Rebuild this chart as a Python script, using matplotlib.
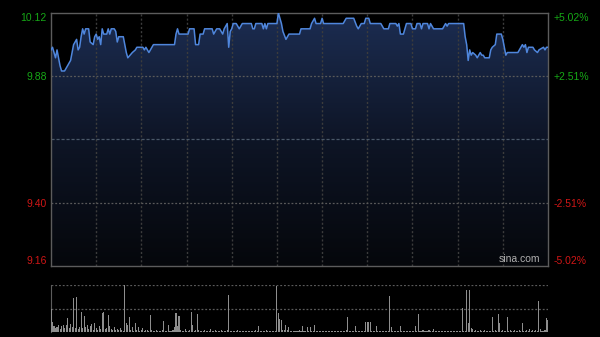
import numpy as np
import matplotlib
matplotlib.use('Agg')
import matplotlib.pyplot as plt
from matplotlib.colors import LinearSegmentedColormap

# ---- data ----
minutes = [0, 1, 3, 4, 6, 7, 9, 10, 12, 13, 15, 17, 18, 19, 20, 21, 22, 23, 25, 26,
           28, 29, 30, 31, 32, 33, 34, 35, 37, 38, 39, 40, 42, 43, 44, 45, 48, 49, 50, 51,
           54, 56, 57, 61, 62, 63, 64, 65, 67, 68, 82, 83, 84, 85, 91, 92, 95, 96, 98, 99,
           101, 102, 107, 108, 110, 112, 114, 115, 117, 118, 119, 120, 121, 123, 125, 127, 133, 134, 135, 136,
           140, 141, 142, 143, 144, 150, 151, 152, 153, 154, 156, 158, 165, 166, 172, 173, 175, 176, 179, 180,
           181, 194, 196, 201, 203, 204, 206, 208, 209, 211, 212, 219, 221, 224, 225, 229, 230, 231, 232, 234,
           236, 239, 240, 242, 243, 245, 246, 247, 250, 251, 252, 254, 260, 262, 263, 264, 274, 275, 276, 277,
           278, 279, 280, 282, 283, 284, 285, 286, 287, 288, 291, 292, 293, 295, 296, 299, 300, 301, 302, 303,
           310, 311, 313, 314, 315, 316, 317, 320, 321, 323, 324, 327, 328, 329, 330]
prices = [9.98, 9.99, 9.95, 9.98, 9.92, 9.90, 9.90, 9.91, 9.93, 9.94, 10.00, 10.02, 9.98, 9.99, 10.03, 10.06, 10.04, 10.06, 10.06, 10.01,
          10.00, 10.03, 10.04, 10.02, 10.03, 10.00, 10.06, 10.04, 10.04, 10.06, 10.04, 10.06, 10.06, 10.05, 10.01, 10.03, 10.03, 10.00, 9.97, 9.95,
          9.97, 9.98, 9.99, 9.99, 9.98, 9.99, 9.98, 9.97, 9.99, 10.00, 10.00, 10.04, 10.06, 10.04, 10.04, 10.06, 10.06, 10.00, 10.00, 10.04,
          10.04, 10.06, 10.06, 10.04, 10.06, 10.06, 10.04, 10.06, 10.08, 9.99, 10.05, 10.06, 10.08, 10.08, 10.06, 10.08, 10.08, 10.06, 10.06, 10.08,
          10.08, 10.06, 10.08, 10.06, 10.08, 10.08, 10.12, 10.10, 10.08, 10.05, 10.02, 10.04, 10.04, 10.06, 10.06, 10.08, 10.10, 10.08, 10.08, 10.10,
          10.08, 10.08, 10.10, 10.10, 10.07, 10.06, 10.08, 10.08, 10.10, 10.10, 10.08, 10.08, 10.06, 10.06, 10.08, 10.08, 10.07, 10.08, 10.04, 10.04,
          10.08, 10.08, 10.06, 10.06, 10.08, 10.08, 10.06, 10.08, 10.08, 10.06, 10.08, 10.06, 10.06, 10.08, 10.07, 10.08, 10.08, 10.03, 10.00, 9.94,
          9.98, 9.96, 9.97, 9.96, 9.95, 9.96, 9.97, 9.96, 9.96, 9.95, 9.95, 9.98, 9.99, 10.00, 10.04, 10.04, 10.02, 9.99, 9.96, 9.97,
          9.97, 9.98, 10.00, 9.99, 10.00, 9.97, 9.99, 9.99, 9.98, 9.97, 9.98, 9.99, 9.98, 9.99, 9.99]

volumes = [50, 22, 12, 8, 10, 15, 6, 12, 14, 8,
           15, 30, 8, 18, 10, 72, 8, 74, 6, 10,
           42, 8, 35, 10, 15, 6, 13, 16, 5, 20,
           8, 5, 12, 6, 40, 42, 6, 8, 37, 12,
           6, 4, 10, 5, 6, 4, 8, 5, 3, 100,
           20, 15, 32, 4, 10, 3, 20, 4, 10, 3,
           4, 8, 3, 5, 4, 3, 36, 4, 3, 2,
           5, 3, 2, 3, 4, 24, 3, 2, 15, 3,
           3, 4, 10, 40, 12, 35, 4, 3, 2, 6,
           3, 2, 4, 42, 14, 3, 4, 38, 5, 3,
           2, 3, 5, 2, 3, 2, 6, 3, 2, 4,
           2, 3, 2, 5, 3, 2, 3, 4, 79, 3,
           2, 3, 2, 2, 4, 2, 3, 2, 2, 3,
           2, 3, 2, 2, 3, 2, 4, 2, 12, 3,
           2, 3, 2, 4, 2, 3, 2, 2, 3, 2,
           97, 40, 27, 25, 5, 4, 15, 4, 10, 3,
           2, 3, 2, 3, 2, 4, 3, 12, 2, 3,
           10, 3, 10, 2, 3, 14, 3, 2, 2, 3,
           2, 3, 2, 3, 2, 3, 2, 2, 3, 2,
           2, 3, 2, 2, 3, 2, 4, 31, 2, 3,
           2, 3, 12, 2, 3, 2, 3, 2, 2, 22,
           22, 22, 22, 3, 2, 2, 12, 2, 3, 2,
           2, 3, 2, 2, 3, 77, 10, 3, 2, 3,
           2, 3, 12, 3, 2, 3, 3, 2, 3, 2,
           3, 2, 13, 2, 38, 3, 2, 5, 3, 2,
           3, 5, 2, 2, 6, 2, 3, 2, 2, 3,
           2, 2, 3, 2, 2, 3, 2, 2, 3, 2,
           3, 2, 3, 52, 3, 2, 90, 20, 89, 8,
           6, 3, 4, 2, 3, 5, 3, 2, 4, 3,
           3, 2, 3, 31, 3, 4, 2, 38, 20, 3,
           5, 3, 2, 31, 3, 4, 2, 3, 5, 3,
           3, 4, 3, 20, 3, 2, 4, 3, 6, 3,
           4, 3, 5, 2, 66, 6, 3, 2, 4, 30,
           25]

prev_close = 9.64
y_ticks = [10.12, 9.88, 9.40, 9.16]
y_labels = ['10.12', '9.88', '9.40', '9.16']
pct_labels = ['+5.02%', '+2.51%', '-2.51%', '-5.02%']
grid_prices = [9.88, 9.40]
vgrid_minutes = [30, 60, 90, 120, 150, 180, 210, 240, 270, 300]

# ---- figure ----
W, H = 600, 337
fig = plt.figure(figsize=(W / 100, H / 100), dpi=100, facecolor='black')
FONT = 'Liberation Sans'
GREEN = '#16a816'
RED = '#d01616'

ax = fig.add_axes([51 / W, 1 - 266 / H, 497 / W, 253 / H], facecolor='black')
ymin, ymax = 9.16, 10.12
xmax = 330
ax.set_xlim(0, xmax)
ax.set_ylim(ymin, ymax)

# gradient fill under the price line
cmap = LinearSegmentedColormap.from_list('g', ['#05070b', '#0e1526', '#1c2d52'])
grad = np.linspace(0, 1, 256).reshape(-1, 1)
im = ax.imshow(grad, extent=[0, xmax, ymin, ymax], origin='lower', aspect='auto',
               cmap=cmap, zorder=1, interpolation='bilinear')
poly = ax.fill_between(minutes, prices, ymin, facecolor='none', edgecolor='none', zorder=1)
im.set_clip_path(poly.get_paths()[0], transform=ax.transData)

# grid
for m in vgrid_minutes:
    ax.axvline(m, color='#3c3c3c', lw=1.0, ls=(0, (1.5, 1.5)), zorder=2)
for p in grid_prices:
    ax.axhline(p, color='#5a5a5a', lw=0.9, ls=(0, (1.5, 1.5)), zorder=2)
ax.axhline(prev_close, color='#4a5868', lw=0.9, ls=(0, (2.5, 1.5)), zorder=2)

ax.plot(minutes, prices, color='#4f86dc', lw=1.1, zorder=3)

for s in ax.spines.values():
    s.set_color('#5c5c5c')
    s.set_linewidth(1.0)

ax.set_xticks([])
ax.set_yticks(y_ticks)
ax.set_yticklabels(y_labels, fontsize=7.5, family=FONT)
ax.tick_params(axis='y', length=0, pad=3)
for i, lab in enumerate(ax.get_yticklabels()):
    lab.set_color(GREEN if y_ticks[i] > prev_close else RED)
    if i == 0:
        lab.set_va('top')
    elif i == len(y_ticks) - 1:
        lab.set_va('bottom')

ax2 = ax.twinx()
ax2.set_ylim(ymin, ymax)
ax2.set_yticks(y_ticks)
ax2.set_yticklabels(pct_labels, fontsize=7.5, family=FONT)
ax2.tick_params(axis='y', length=0, pad=4)
for i, lab in enumerate(ax2.get_yticklabels()):
    lab.set_color(GREEN if y_ticks[i] > prev_close else RED)
    if i == 0:
        lab.set_va('top')
    elif i == len(y_ticks) - 1:
        lab.set_va('bottom')
for s in ax2.spines.values():
    s.set_visible(False)

ax.text(0.985, 0.008, 'sina.com', transform=ax.transAxes, ha='right', va='bottom',
        color='#b0b0b0', fontsize=7.5, family=FONT, zorder=5)

# ---- volume panel ----
axv = fig.add_axes([51 / W, 1 - 332 / H, 497 / W, 47 / H], facecolor='black')
axv.set_xlim(0, xmax)
axv.set_ylim(0, 100)
axv.bar(range(len(volumes)), volumes, width=0.7, color='#8e8e8e', linewidth=0, zorder=3)
axv.axhline(100, color='#5a5a5a', lw=0.9, ls=(0, (1.5, 1.5)), zorder=2)
axv.axhline(50, color='#5a5a5a', lw=0.9, ls=(0, (1.5, 1.5)), zorder=2)
for k, s in axv.spines.items():
    s.set_visible(k == 'left')
    s.set_color('#5c5c5c')
axv.set_xticks([])
axv.set_yticks([])

fig.savefig('out.png', dpi=100, facecolor='black')
